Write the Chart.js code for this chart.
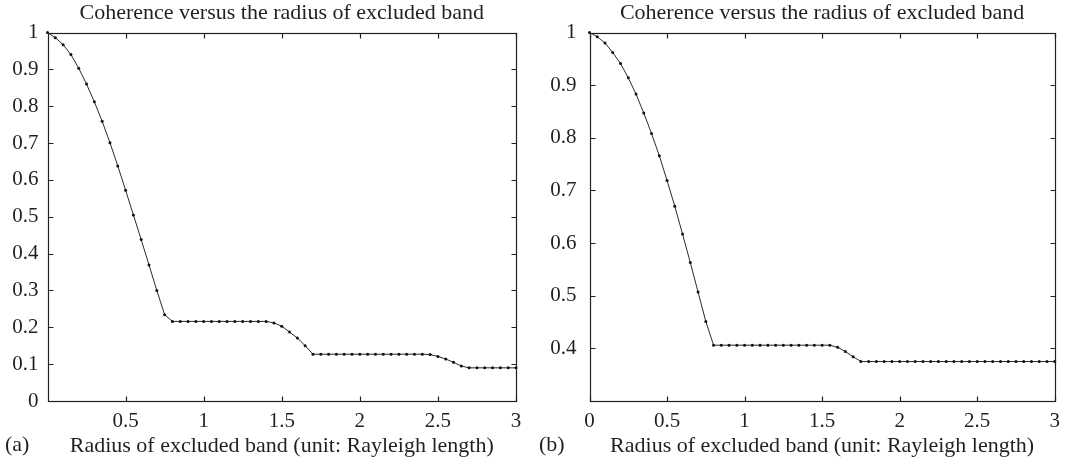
<!DOCTYPE html>
<html>
<head>
<meta charset="utf-8">
<script src="https://cdn.jsdelivr.net/npm/chart.js@4.4.0/dist/chart.umd.min.js"></script>
<style>
  html, body { margin: 0; padding: 0; background: #fff; }
  .wrap { width: 1068px; height: 462px; display: flex; }
  canvas { display: block; }
</style>
</head>
<body>
<div class="wrap">
  <canvas id="panelA" width="534" height="462"></canvas>
  <canvas id="panelB" width="534" height="462"></canvas>
</div>
<script>
// sample positions (radius of excluded band, Rayleigh lengths)
const radius = [
  0, 0.05, 0.1, 0.15, 0.2, 0.25, 0.3, 0.35, 0.4, 0.45,
  0.5, 0.55, 0.6, 0.65, 0.7, 0.75, 0.8, 0.85, 0.9, 0.95,
  1, 1.05, 1.1, 1.15, 1.2, 1.25, 1.3, 1.35, 1.4, 1.45,
  1.5, 1.55, 1.6, 1.65, 1.7, 1.75, 1.8, 1.85, 1.9, 1.95,
  2, 2.05, 2.1, 2.15, 2.2, 2.25, 2.3, 2.35, 2.4, 2.45,
  2.5, 2.55, 2.6, 2.65, 2.7, 2.75, 2.8, 2.85, 2.9, 2.95, 3
];

// panel (a)
const coherenceA = [
  1.000, 0.986, 0.967, 0.940, 0.903, 0.860, 0.812, 0.759, 0.701, 0.638,
  0.572, 0.505, 0.438, 0.369, 0.300, 0.234, 0.216, 0.216, 0.216, 0.216,
  0.216, 0.216, 0.216, 0.216, 0.216, 0.216, 0.216, 0.216, 0.216, 0.212,
  0.203, 0.187, 0.171, 0.150, 0.127, 0.127, 0.127, 0.127, 0.127, 0.127,
  0.127, 0.127, 0.127, 0.127, 0.127, 0.127, 0.127, 0.127, 0.127, 0.126,
  0.121, 0.114, 0.105, 0.095, 0.090, 0.090, 0.090, 0.090, 0.090, 0.090, 0.090
];

// panel (b)
const coherenceB = [
  1.000, 0.992, 0.980, 0.962, 0.941, 0.914, 0.883, 0.847, 0.808, 0.766,
  0.719, 0.670, 0.617, 0.563, 0.507, 0.451, 0.406, 0.406, 0.406, 0.406,
  0.406, 0.406, 0.406, 0.406, 0.406, 0.406, 0.406, 0.406, 0.406, 0.406,
  0.406, 0.406, 0.402, 0.394, 0.384, 0.375, 0.375, 0.375, 0.375, 0.375,
  0.375, 0.375, 0.375, 0.375, 0.375, 0.375, 0.375, 0.375, 0.375, 0.375,
  0.375, 0.375, 0.375, 0.375, 0.375, 0.375, 0.375, 0.375, 0.375, 0.375, 0.375
];

const xTicksA = [0.5, 1, 1.5, 2, 2.5, 3];
const xTicksB = [0, 0.5, 1, 1.5, 2, 2.5, 3];
const yTicksA = [0, 0.1, 0.2, 0.3, 0.4, 0.5, 0.6, 0.7, 0.8, 0.9, 1];
const yTicksB = [0.4, 0.5, 0.6, 0.7, 0.8, 0.9, 1];

const titleText = "Coherence versus the radius of excluded band";
const xLabel = "Radius of excluded band (unit: Rayleigh length)";

const INK = "#231f20";
const SERIF = "'Liberation Serif', 'Times New Roman', serif";
Chart.defaults.font.family = SERIF;
Chart.defaults.color = INK;

// box round the plot with inward ticks on all four sides, plus panel letter
const framePlugin = {
  id: "frame",
  afterDraw(chart, args, opts) {
    const { ctx, chartArea: a, scales } = chart;
    const L = Math.round(a.left) + 0.5, R = Math.round(a.right) + 0.5;
    const T = Math.round(a.top) + 0.5, B = Math.round(a.bottom) + 0.5;
    const len = 5;
    ctx.save();
    ctx.strokeStyle = INK;
    ctx.lineWidth = 1.2;
    ctx.strokeRect(L, T, R - L, B - T);
    ctx.beginPath();
    scales.x.ticks.forEach(t => {
      const px = Math.round(scales.x.getPixelForValue(t.value)) + 0.5;
      ctx.moveTo(px, B); ctx.lineTo(px, B - len);
      ctx.moveTo(px, T); ctx.lineTo(px, T + len);
    });
    scales.y.ticks.forEach(t => {
      const py = Math.round(scales.y.getPixelForValue(t.value)) + 0.5;
      ctx.moveTo(L, py); ctx.lineTo(L + len, py);
      ctx.moveTo(R, py); ctx.lineTo(R - len, py);
    });
    ctx.stroke();
    ctx.fillStyle = INK;
    ctx.font = "22px " + SERIF;
    ctx.textBaseline = "middle";
    ctx.textAlign = "left";
    ctx.fillText(opts.letter, opts.letterX, 445);
    ctx.restore();
  }
};

function makePanel(id, values, yMin, xTicks, yTicks, letter, opt) {
  new Chart(document.getElementById(id), {
    type: "line",
    data: {
      datasets: [{
        data: radius.map((r, i) => ({ x: r, y: values[i] })),
        borderColor: "#2a2a2a",
        borderWidth: 1,
        pointRadius: 1.5,
        pointBackgroundColor: "#111",
        pointBorderWidth: 0,
        tension: 0,
        clip: false
      }]
    },
    options: {
      responsive: false,
      animation: false,
      layout: { padding: { left: 0, right: opt.padRight, top: 0, bottom: 0 } },
      plugins: {
        legend: { display: false },
        tooltip: { enabled: false },
        title: {
          display: true,
          text: titleText,
          fullSize: false,
          color: INK,
          font: { size: 22, weight: "normal" },
          padding: { top: 0.5, bottom: 5.6 }
        },
        frame: { letter: letter, letterX: 5 }
      },
      scales: {
        x: {
          type: "linear",
          min: 0,
          max: 3,
          grid: { display: false, drawTicks: false },
          border: { display: false },
          afterBuildTicks: s => { s.ticks = xTicks.map(v => ({ value: v })); },
          afterFit: s => { s.height = 61; },
          ticks: {
            padding: 8,
            maxRotation: 0,
            font: { size: 21 },
            color: INK,
            callback: v => String(v)
          },
          title: {
            display: true,
            text: xLabel,
            color: INK,
            font: { size: 22 },
            padding: { top: 0, bottom: 2.5 }
          }
        },
        y: {
          min: yMin,
          max: 1,
          grid: { display: false, drawTicks: false },
          border: { display: false },
          afterBuildTicks: s => { s.ticks = yTicks.map(v => ({ value: v })); },
          afterFit: s => { s.width = opt.yWidth; },
          ticks: {
            padding: opt.yPad,
            font: { size: 21 },
            color: INK,
            callback: v => String(v)
          }
        }
      }
    },
    plugins: [framePlugin]
  });
}

makePanel("panelA", coherenceA, 0, xTicksA, yTicksA, "(a)", { yWidth: 47.5, padRight: 18, yPad: 9 });
makePanel("panelB", coherenceB, 0.3, xTicksB, yTicksB, "(b)", { yWidth: 55.5, padRight: 10.5, yPad: 13 });
</script>
</body>
</html>
